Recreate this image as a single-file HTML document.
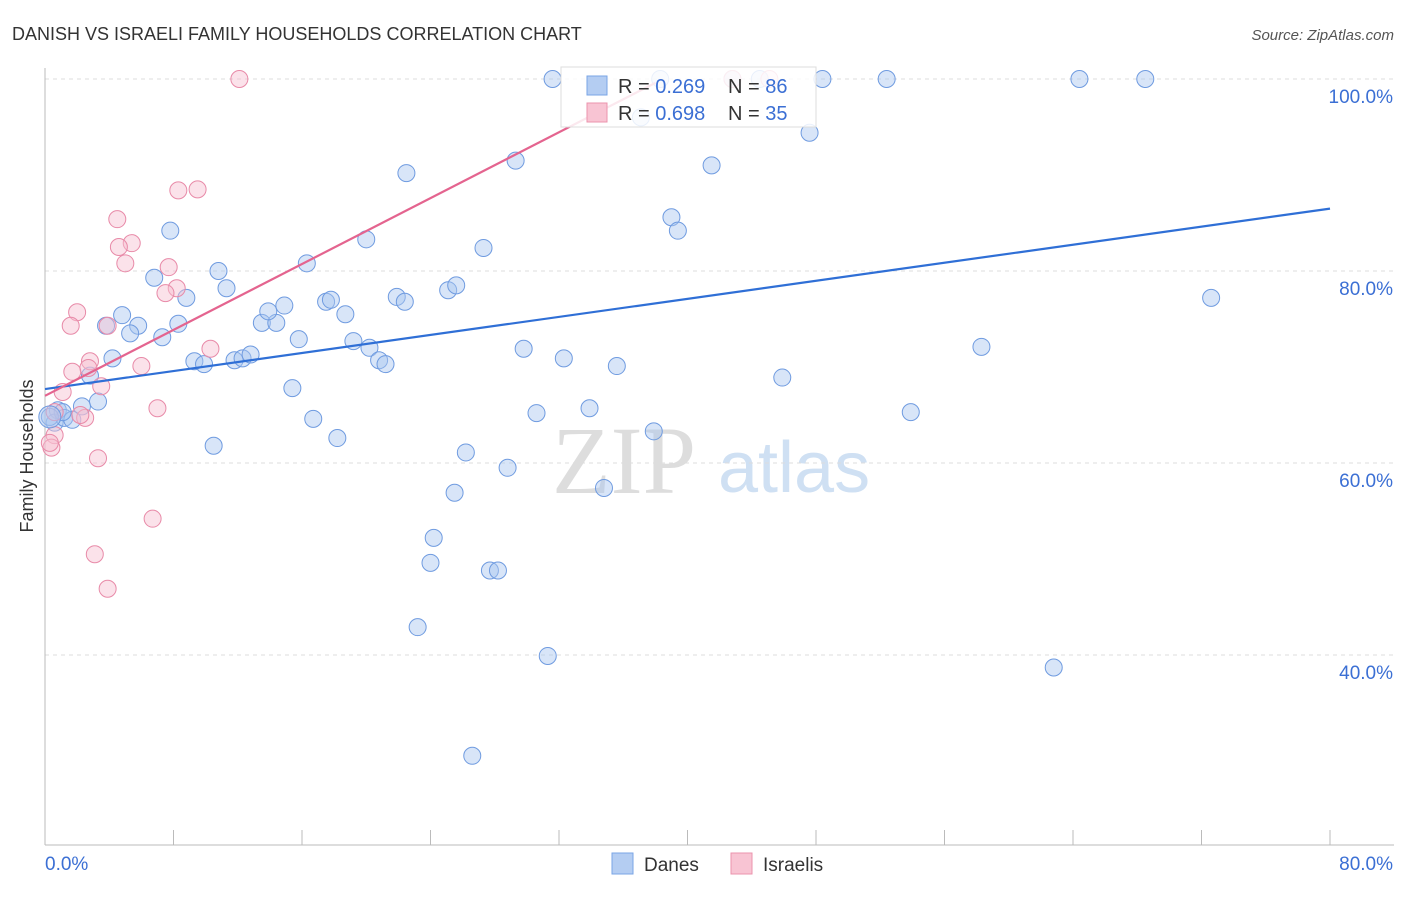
<!DOCTYPE html>
<html><head><meta charset="utf-8"><style>
body{margin:0;background:#fff;font-family:"Liberation Sans",sans-serif;}
</style></head><body>
<svg id="c" width="1406" height="892" style="font-family:'Liberation Sans',sans-serif">
<text x="12" y="40" font-size="18" fill="#333">DANISH VS ISRAELI FAMILY HOUSEHOLDS CORRELATION CHART</text>
<text x="1394" y="40" font-size="15" fill="#555" font-style="italic" text-anchor="end">Source: ZipAtlas.com</text>
<text transform="translate(33,456) rotate(-90)" font-size="18" fill="#333" text-anchor="middle">Family Households</text>
<g>
<text x="552" y="493" font-size="96" fill="#ddd" style="font-family:'Liberation Serif',serif">ZIP</text>
<text x="718" y="492" font-size="72" fill="#cfe0f3">atlas</text>
</g>
<g id="grid"></g><g id="axes"></g><g id="pts"></g><g id="lines"></g>
<g>
<rect x="561" y="67" width="255" height="60" fill="#fff" fill-opacity="0.85" stroke="#ddd"/>
<rect x="587" y="76" width="20" height="19" fill="#b4cdf2" stroke="#7aa5e6"/>
<text x="618" y="93" font-size="20" fill="#333">R = <tspan fill="#3b6fd4">0.269</tspan></text>
<text x="728" y="93" font-size="20" fill="#333">N = <tspan fill="#3b6fd4">86</tspan></text>
<rect x="587" y="103" width="20" height="19" fill="#f8c4d3" stroke="#eb93ad"/>
<text x="618" y="120" font-size="20" fill="#333">R = <tspan fill="#3b6fd4">0.698</tspan></text>
<text x="728" y="120" font-size="20" fill="#333">N = <tspan fill="#3b6fd4">35</tspan></text>
</g>
<g>
<rect x="612" y="853" width="21" height="21" fill="#b4cdf2" stroke="#7aa5e6"/>
<text x="644" y="871" font-size="19" fill="#333">Danes</text>
<rect x="731" y="853" width="21" height="21" fill="#f8c4d3" stroke="#eb93ad"/>
<text x="763" y="871" font-size="19" fill="#333">Israelis</text>
</g>
</svg>
<script>
const yTicks=[40,60,80,100];
const xTickLabels=["0.0%","80.0%"];
const danesX=[31.6,38.3,42.8,44.5,48.4,52.4,64.4,68.5,37.1,47.6,22.5,29.3,41.5,39.0,39.4,7.8,20.0,27.3,16.3,6.8,10.8,11.3,8.8,4.8,3.8,5.8,5.3,7.3,8.3,13.5,14.4,13.9,14.9,17.5,17.8,18.7,21.9,22.4,25.1,25.6,15.8,19.2,20.2,20.8,21.2,29.8,32.3,35.6,45.9,58.3,72.6,4.2,9.3,9.9,11.8,12.3,12.8,2.8,15.4,3.3,2.3,30.6,33.9,37.9,53.9,16.7,18.2,10.5,26.2,28.8,25.5,34.8,24.2,24.0,27.7,28.2,23.2,31.3,62.8,26.6,0.8,0.6,1.2,1.7,1.1,0.3];
const danesY=[100,100,100,100,100,100,100,100,96.0,94.4,90.2,91.5,91.0,85.6,84.2,84.2,83.3,82.4,80.8,79.3,80.0,78.2,77.2,75.4,74.3,74.3,73.5,73.1,74.5,74.6,74.6,75.8,76.4,76.8,77.0,75.5,77.3,76.8,78.0,78.5,72.9,72.7,72.0,70.7,70.3,71.9,70.9,70.1,68.9,72.1,77.2,70.9,70.6,70.3,70.7,70.9,71.3,69.1,67.8,66.4,65.9,65.2,65.7,63.3,65.3,64.6,62.6,61.8,61.1,59.5,56.9,57.4,52.2,49.6,48.8,48.8,42.9,39.9,38.7,29.5,65.5,64.2,64.7,64.5,65.3,64.8];
const israelisX=[12.1,4.5,5.4,4.6,5.0,8.3,9.5,7.7,8.2,7.5,2.0,1.6,3.9,6.0,10.3,2.8,2.7,1.7,3.5,1.1,7.0,2.5,2.2,0.6,0.6,0.4,0.3,3.3,6.7,3.1,3.9,42.8,45.1];
const israelisY=[100,85.4,82.9,82.5,80.8,88.4,88.5,80.4,78.2,77.7,75.7,74.3,74.3,70.1,71.9,70.6,69.9,69.5,68.0,67.4,65.7,64.7,65.0,65.3,62.9,61.6,62.1,60.5,54.2,50.5,46.9,100,100];
const danesLine=[[0,67.7],[80,86.5]];
const israelisLine=[[0,67.0],[38,99.6]];
const NS="http://www.w3.org/2000/svg";
const X=v=>45+v*16.0625, Y=v=>79+(100-v)*9.6;
function mk(t,a,p){const e=document.createElementNS(NS,t);for(const k in a)e.setAttribute(k,a[k]);p.appendChild(e);return e;}
const grid=document.getElementById('grid'),axes=document.getElementById('axes'),pts=document.getElementById('pts'),lines=document.getElementById('lines');
yTicks.forEach(v=>{
 const l=mk('line',{x1:45,x2:1394,y1:Y(v),y2:Y(v),stroke:'#ddd','stroke-dasharray':'4,4'},grid);
 
 
 const t=mk('text',{x:1393,y:Y(v)+24,'font-size':19,fill:'#3b6fd4','text-anchor':'end'},axes);
 t.textContent=v.toFixed(1)+'%';
 
 
});
let a=mk('line',{x1:45,x2:45,y1:68,y2:845,stroke:'#bbb'},axes);


a=mk('line',{x1:45,x2:1394,y1:845,y2:845,stroke:'#bbb'},axes);


for(let i=1;i<=10;i++){
 const tk=mk('line',{x1:X(i*8),x2:X(i*8),y1:830,y2:845,stroke:'#bbb'},axes);
 
 
}
let t=mk('text',{x:45,y:870,'font-size':19,fill:'#3b6fd4'},axes);t.textContent=xTickLabels[0];


t=mk('text',{x:1393,y:870,'font-size':19,fill:'#3b6fd4','text-anchor':'end'},axes);t.textContent=xTickLabels[1];


function series(xs,ys,fill,stroke,name){xs.forEach((x,i)=>{
 const c=mk('circle',{cx:X(x),cy:Y(ys[i]),r:8.5,fill:fill,'fill-opacity':0.45,stroke:stroke,'stroke-width':1},pts);
 
 
});}
series(danesX,danesY,'#a9c6f0','#6f9be0','danes');
series(israelisX,israelisY,'#f7bfd0','#e88aa8','israelis');
let ln=mk('line',{x1:X(danesLine[0][0]),y1:Y(danesLine[0][1]),x2:X(danesLine[1][0]),y2:Y(danesLine[1][1]),stroke:'#2f6fd6','stroke-width':2.2},lines);


ln=mk('line',{x1:X(israelisLine[0][0]),y1:Y(israelisLine[0][1]),x2:X(israelisLine[1][0]),y2:Y(israelisLine[1][1]),stroke:'#e4648f','stroke-width':2.2},lines);


const bg=mk('circle',{cx:X(0.3),cy:Y(64.8),r:11,fill:'#a9c6f0','fill-opacity':0.5,stroke:'#6f9be0'},pts);


</script>
</body></html>
